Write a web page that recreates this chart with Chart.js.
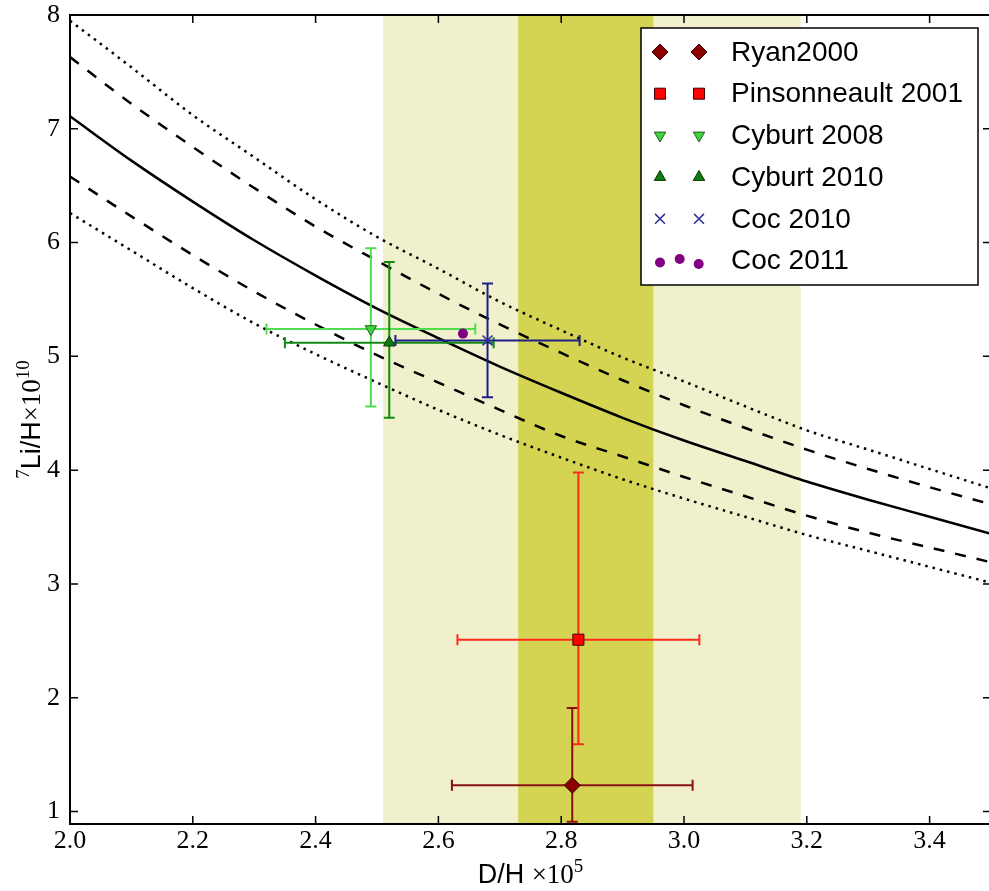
<!DOCTYPE html>
<html>
<head>
<meta charset="utf-8">
<script src="https://cdn.jsdelivr.net/npm/chart.js@4.4.1/dist/chart.umd.min.js"></script>
<style>
  html, body { margin: 0; padding: 0; background: #fff; overflow: hidden; }
  #wrap { width: 1000px; height: 891px; }
</style>
</head>
<body>
<div id="wrap"><canvas id="chart" width="1000" height="891"></canvas></div>
<script>
// BBN prediction for 7Li/H as a function of D/H (central, 1 sigma dashed, 2 sigma dotted)
const dhGrid    = [2.0, 2.1, 2.2, 2.3, 2.4, 2.5, 2.6, 2.7, 2.8, 2.9, 3.0, 3.1, 3.2, 3.3, 3.4, 3.5];
const liCentral = [7.11, 6.72, 6.36, 6.02, 5.71, 5.42, 5.16, 4.91, 4.68, 4.46, 4.26, 4.08, 3.90, 3.74, 3.59, 3.44];
const liHigh1   = [7.63, 7.22, 6.84, 6.48, 6.14, 5.84, 5.55, 5.28, 5.03, 4.79, 4.57, 4.37, 4.18, 4.01, 3.85, 3.70];
const liLow1    = [6.58, 6.23, 5.89, 5.57, 5.28, 5.01, 4.77, 4.53, 4.30, 4.12, 3.94, 3.77, 3.60, 3.45, 3.32, 3.19];
const liHigh2   = [7.95, 7.54, 7.12, 6.75, 6.38, 6.05, 5.77, 5.48, 5.23, 4.99, 4.78, 4.56, 4.35, 4.18, 4.01, 3.84];
const liLow2    = [6.26, 5.93, 5.60, 5.29, 5.02, 4.77, 4.53, 4.31, 4.11, 3.92, 3.75, 3.59, 3.43, 3.29, 3.15, 3.01];

// observed D/H ranges
const dhBandWide   = [2.51, 3.19];
const dhBandNarrow = [2.73, 2.95];

// lithium measurements
const sources      = ["Ryan2000", "Pinsonneault 2001", "Cyburt 2008", "Cyburt 2010", "Coc 2010", "Coc 2011"];
const obsDH        = [2.818, 2.828, 2.49, 2.52, 2.68, 2.64];
const obsDHErr     = [0.196, 0.197, 0.17, 0.17, 0.15, 0];
const obsLi        = [1.23, 2.51, 5.24, 5.12, 5.14, 5.20];
const obsLiErrUp   = [0.68, 1.47, 0.71, 0.71, 0.50, 0];
const obsLiErrDown = [0.32, 0.92, 0.68, 0.66, 0.50, 0];

const xTicks = [2.0, 2.2, 2.4, 2.6, 2.8, 3.0, 3.2, 3.4];
const yTicks = [1, 2, 3, 4, 5, 6, 7, 8];

const markers = [
  { pointStyle: "rectRot",  radius: 8,   rotation: 0,   fill: "#8b0000", edge: "#300000", bw: 1,   bar: "#8b1010" },
  { pointStyle: "rect",     radius: 7.8, rotation: 0,   fill: "#ff0000", edge: "#3a0000", bw: 1,   bar: "#ff2a1a" },
  { pointStyle: "triangle", radius: 6.6, rotation: 180, fill: "#3fd43f", edge: "#1f5f1f", bw: 1,   bar: "#4ddd4d" },
  { pointStyle: "triangle", radius: 6.6, rotation: 0,   fill: "#0b7d0b", edge: "#063806", bw: 1,   bar: "#138a13" },
  { pointStyle: "crossRot", radius: 7,   rotation: 0,   fill: "#2c2c9c", edge: "#2c2c9c", bw: 1.5, bar: "#1e1e86" },
  { pointStyle: "circle",   radius: 5,   rotation: 0,   fill: "#800080", edge: "#800080", bw: 0,   bar: "#800080" }
];

const serif = '"Liberation Serif", "DejaVu Serif", serif';
const sans = '"Liberation Sans", Arial, sans-serif';

function curve(values, dash) {
  return {
    data: dhGrid.map((x, i) => ({ x: x, y: values[i] })),
    showLine: true,
    borderColor: "#000",
    borderWidth: 2.5,
    borderDash: dash,
    borderCapStyle: "butt",
    pointRadius: 0,
    cubicInterpolationMode: "monotone",
    order: 20
  };
}

const pointSets = sources.map((name, i) => ({
  label: name,
  errIndex: i,
  data: [{ x: obsDH[i], y: obsLi[i] }],
  pointStyle: markers[i].pointStyle,
  pointRadius: markers[i].radius,
  pointRotation: markers[i].rotation,
  pointBackgroundColor: markers[i].fill,
  pointBorderColor: markers[i].edge,
  pointBorderWidth: markers[i].bw,
  order: 6 - i
}));

// shaded D/H bands behind everything
const bandsPlugin = {
  id: "bands",
  beforeDatasetsDraw(chart) {
    const { ctx, chartArea: a, scales: { x } } = chart;
    ctx.save();
    ctx.beginPath();
    ctx.rect(a.left, a.top, a.right - a.left, a.bottom - a.top);
    ctx.clip();
    const x0 = x.getPixelForValue(dhBandWide[0]), x1 = x.getPixelForValue(dhBandWide[1]);
    ctx.fillStyle = "#f0f0cc";
    ctx.fillRect(x0, a.top, x1 - x0, a.bottom - a.top);
    const n0 = x.getPixelForValue(dhBandNarrow[0]), n1 = x.getPixelForValue(dhBandNarrow[1]);
    ctx.fillStyle = "#d4d452";
    ctx.fillRect(n0, a.top, n1 - n0, a.bottom - a.top);
    ctx.restore();
  }
};

// error bars, drawn just under each measurement marker
const errorBarPlugin = {
  id: "errorBars",
  beforeDatasetDraw(chart, args) {
    const ds = chart.data.datasets[args.index];
    if (ds.errIndex === undefined) return;
    const i = ds.errIndex;
    const { ctx, chartArea: a, scales: { x, y } } = chart;
    const px = x.getPixelForValue(obsDH[i]);
    const py = y.getPixelForValue(obsLi[i]);
    const cap = 5.5;
    ctx.save();
    ctx.beginPath();
    ctx.rect(a.left, a.top, a.right - a.left, a.bottom - a.top);
    ctx.clip();
    ctx.strokeStyle = markers[i].bar;
    ctx.lineWidth = 2;
    ctx.beginPath();
    if (obsDHErr[i] > 0) {
      const l = x.getPixelForValue(obsDH[i] - obsDHErr[i]);
      const r = x.getPixelForValue(obsDH[i] + obsDHErr[i]);
      ctx.moveTo(l, py); ctx.lineTo(r, py);
      ctx.moveTo(l, py - cap); ctx.lineTo(l, py + cap);
      ctx.moveTo(r, py - cap); ctx.lineTo(r, py + cap);
    }
    if (obsLiErrUp[i] > 0 || obsLiErrDown[i] > 0) {
      const t = y.getPixelForValue(obsLi[i] + obsLiErrUp[i]);
      const b = y.getPixelForValue(obsLi[i] - obsLiErrDown[i]);
      ctx.moveTo(px, t); ctx.lineTo(px, b);
      ctx.moveTo(px - cap, t); ctx.lineTo(px + cap, t);
      ctx.moveTo(px - cap, b); ctx.lineTo(px + cap, b);
    }
    ctx.stroke();
    ctx.restore();
  }
};

function drawMarker(ctx, i, cx, cy) {
  const m = markers[i];
  ctx.fillStyle = m.fill;
  ctx.strokeStyle = m.edge;
  ctx.lineWidth = m.bw;
  Chart.helpers.drawPoint(ctx, { pointStyle: m.pointStyle, radius: m.radius, rotation: m.rotation, borderWidth: m.bw }, cx, cy);
}

function drawParts(ctx, parts, cx, baseY) {
  let total = 0;
  parts.forEach(p => { ctx.font = p.f; p.w = ctx.measureText(p.t).width; total += p.w; });
  let cur = cx - total / 2;
  ctx.textAlign = "left";
  parts.forEach(p => {
    ctx.font = p.f;
    ctx.fillText(p.t, cur, baseY + p.dy);
    cur += p.w;
  });
}

// frame, inward ticks, axis titles and legend box
const framePlugin = {
  id: "frame",
  afterDraw(chart) {
    const { ctx, chartArea: a, scales: { x, y } } = chart;
    ctx.save();
    ctx.strokeStyle = "#000";
    ctx.lineWidth = 1.5;
    ctx.beginPath();
    xTicks.forEach(v => {
      const p = x.getPixelForValue(v);
      ctx.moveTo(p, a.bottom); ctx.lineTo(p, a.bottom - 8);
      ctx.moveTo(p, a.top); ctx.lineTo(p, a.top + 8);
    });
    yTicks.forEach(v => {
      const p = y.getPixelForValue(v);
      ctx.moveTo(a.left, p); ctx.lineTo(a.left + 8, p);
      ctx.moveTo(a.right, p); ctx.lineTo(a.right - 8, p);
    });
    ctx.stroke();
    ctx.lineWidth = 2;
    ctx.strokeRect(a.left, a.top, a.right - a.left, a.bottom - a.top);

    // x title: D/H ×10^5
    ctx.fillStyle = "#000";
    ctx.textBaseline = "alphabetic";
    drawParts(ctx, [
      { t: "D/H ", f: "27px " + sans, dy: 0 },
      { t: "×10", f: "27px " + serif, dy: 0 },
      { t: "5", f: "19px " + serif, dy: -11 }
    ], (a.left + a.right) / 2, 883);

    // y title: 7Li/H ×10^10, rotated
    ctx.save();
    ctx.translate(40, (a.top + a.bottom) / 2);
    ctx.rotate(-Math.PI / 2);
    drawParts(ctx, [
      { t: "7", f: "19px " + serif, dy: -11 },
      { t: "Li/H", f: "27px " + sans, dy: 0 },
      { t: "×10", f: "27px " + serif, dy: 0 },
      { t: "10", f: "19px " + serif, dy: -11 }
    ], 0, 0);
    ctx.restore();

    // legend
    const lx = a.right - 350, ly = a.top + 13, lw = 337, lh = 257;
    ctx.fillStyle = "#fff";
    ctx.fillRect(lx, ly, lw, lh);
    ctx.lineWidth = 1.5;
    ctx.strokeStyle = "#000";
    ctx.strokeRect(lx, ly, lw, lh);
    sources.forEach((name, i) => {
      const ry = ly + 24 + i * 41.7;
      if (markers[i].pointStyle === "circle") {
        drawMarker(ctx, i, lx + 19, ry + 2);
        drawMarker(ctx, i, lx + 38.7, ry - 1.5);
        drawMarker(ctx, i, lx + 57.7, ry + 3.5);
      } else {
        drawMarker(ctx, i, lx + 19, ry);
        drawMarker(ctx, i, lx + 58, ry);
      }
      ctx.fillStyle = "#000";
      ctx.font = "28px " + sans;
      ctx.textBaseline = "middle";
      ctx.textAlign = "left";
      ctx.fillText(name, lx + 90, ry + 1);
    });
    ctx.restore();
  }
};

new Chart(document.getElementById("chart").getContext("2d"), {
  type: "scatter",
  data: {
    datasets: [
      curve(liCentral, []),
      curve(liHigh1, [11, 11]),
      curve(liLow1, [11, 11]),
      curve(liHigh2, [2.5, 5]),
      curve(liLow2, [2.5, 5]),
      ...pointSets
    ]
  },
  options: {
    responsive: false,
    animation: false,
    layout: { padding: { left: 0, top: 15, right: 5, bottom: 0 } },
    plugins: { legend: { display: false }, tooltip: { enabled: false } },
    scales: {
      x: {
        type: "linear",
        min: 2.0,
        max: 3.5,
        afterBuildTicks: s => { s.ticks = xTicks.map(v => ({ value: v })); },
        afterFit: s => { s.height = 67; s.paddingLeft = 0; s.paddingRight = 0; },
        grid: { display: false, drawTicks: false },
        border: { display: false },
        ticks: {
          padding: 2,
          color: "#000",
          font: { family: serif, size: 26 },
          callback: v => v.toFixed(1)
        }
      },
      y: {
        type: "linear",
        min: 0.89,
        max: 8,
        afterBuildTicks: s => { s.ticks = yTicks.map(v => ({ value: v })); },
        afterFit: s => { s.width = 70; s.paddingTop = 0; s.paddingBottom = 0; },
        grid: { display: false, drawTicks: false },
        border: { display: false },
        ticks: {
          padding: 10,
          color: "#000",
          font: { family: serif, size: 26 },
          callback: v => String(v)
        }
      }
    }
  },
  plugins: [bandsPlugin, errorBarPlugin, framePlugin]
});
</script>
</body>
</html>
